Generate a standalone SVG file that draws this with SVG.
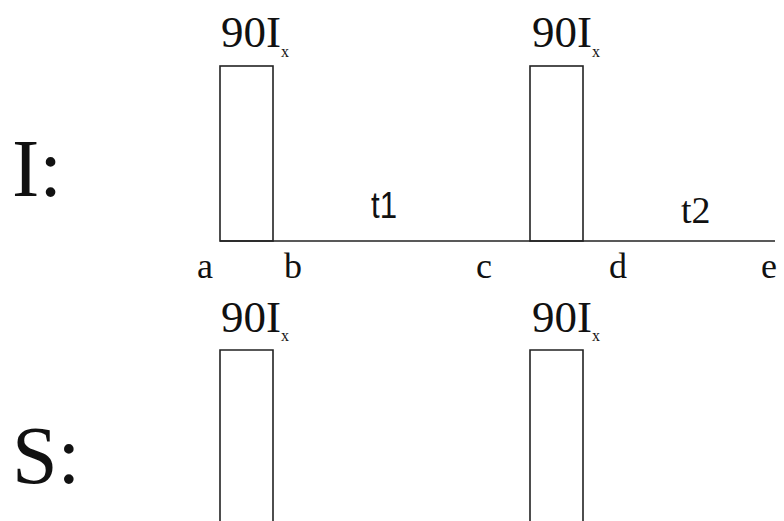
<svg xmlns="http://www.w3.org/2000/svg" width="784" height="521" viewBox="0 0 784 521">
<style>
.ln{fill:none;stroke:#222;stroke-width:1.6}
.serif{font-family:"Liberation Serif","Times New Roman",serif;fill:#111}
.sans{font-family:"Liberation Sans",Arial,sans-serif;fill:#111}
.lbl{font-size:45px}
.sub{font-size:16px}
.pt{font-size:36px}
.big{font-size:82px}
</style>
<rect width="784" height="521" fill="#fff"/>
<g id="channel-labels">
<text class="serif big" x="12" y="196">I:</text>
<text class="serif big" x="12" y="483">S:</text>
</g>
<g id="connectors">
<line class="ln" x1="220" y1="241" x2="775" y2="241"/>
</g>
<g id="pulse-I1">
<rect class="ln" x="220" y="66" width="53" height="175"/>
<text class="serif lbl" x="221" y="47">90I<tspan class="sub" dy="10">x</tspan></text>
</g>
<g id="pulse-I2">
<rect class="ln" x="530" y="66" width="53" height="175"/>
<text class="serif lbl" x="532" y="47">90I<tspan class="sub" dy="10">x</tspan></text>
</g>
<g id="pulse-S1">
<path class="ln" d="M220,530 V350 H273 V530"/>
<text class="serif lbl" x="221" y="332">90I<tspan class="sub" dy="9">x</tspan></text>
</g>
<g id="pulse-S2">
<path class="ln" d="M530,530 V350 H583 V530"/>
<text class="serif lbl" x="532" y="332">90I<tspan class="sub" dy="9">x</tspan></text>
</g>
<g id="time-labels">
<text class="sans" font-size="36" x="371" y="218" textLength="26" lengthAdjust="spacingAndGlyphs">t1</text>
<text class="serif" font-size="38" x="681" y="223">t2</text>
</g>
<g id="point-labels">
<text class="serif pt" x="197" y="278">a</text>
<text class="serif pt" x="284" y="278">b</text>
<text class="serif pt" x="476" y="278">c</text>
<text class="serif pt" x="609" y="278">d</text>
<text class="serif pt" x="761" y="278">e</text>
</g>
</svg>
